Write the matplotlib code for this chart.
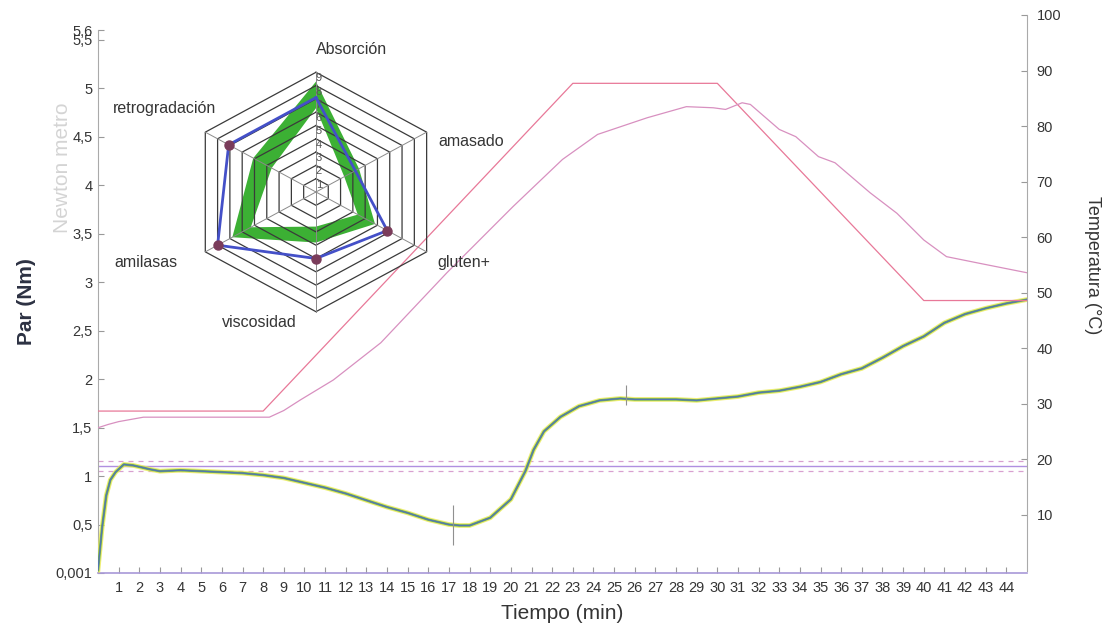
import numpy as np
import matplotlib
matplotlib.use("Agg")
import matplotlib.pyplot as plt

plt.rcParams['font.family'] = ['Liberation Sans', 'DejaVu Sans']

# torque curve (Nm) vs time (min)
tiempo = [0, 0.2, 0.4, 0.6, 0.85, 1.25, 1.7, 2.5, 3, 4, 5, 6, 7, 8, 9, 10,
          11, 12, 13, 14, 15, 16, 17, 17.5, 18, 19, 20, 20.7, 21.1, 21.6,
          22.4, 23.3, 24.3, 25.3, 26, 27, 28, 29, 30, 31, 32, 33, 34, 35,
          36, 37, 38, 39, 40, 41, 42, 43, 44, 45]
par = [0.03, 0.47, 0.80, 0.96, 1.04, 1.12, 1.11, 1.07, 1.05, 1.06, 1.05,
       1.04, 1.03, 1.01, 0.98, 0.93, 0.88, 0.82, 0.75, 0.68, 0.62, 0.55,
       0.50, 0.49, 0.49, 0.57, 0.76, 1.05, 1.27, 1.46, 1.61, 1.72, 1.78,
       1.80, 1.79, 1.79, 1.79, 1.78, 1.80, 1.82, 1.86, 1.88, 1.92, 1.97,
       2.05, 2.11, 2.22, 2.34, 2.44, 2.58, 2.67, 2.73, 2.78, 2.82]

# spikes on the torque trace (time, low, high)
spike_t = [17.2, 25.6]
spike_lo = [0.29, 1.73]
spike_hi = [0.70, 1.94]

# C1 target 1.10 +/- 0.05 Nm
c1_target = 1.10
c1_tol = 0.05

# set-point temperature
t_consigna = [0, 8, 23, 30, 40, 45]
temp_consigna = [28.7, 28.7, 87.7, 87.7, 48.6, 48.6]

# measured dough temperature
t_masa = [0, 0.5, 1, 2.2, 5, 8.3, 9, 9.8, 11.4, 13.7, 16.9, 20.1, 22.5,
          24.2, 26.6, 28.5, 29.8, 30.4, 31.2, 31.6, 33, 33.8, 34.9, 35.7,
          37.4, 38.7, 40, 41.1, 42.7, 45]
temp_masa = [25.7, 26.3, 26.8, 27.6, 27.6, 27.6, 28.8, 30.7, 34.3, 41.0,
             53.6, 65.5, 74.0, 78.5, 81.5, 83.5, 83.3, 83.0, 84.2, 83.9,
             79.4, 78.1, 74.5, 73.4, 68.0, 64.3, 59.5, 56.5, 55.3, 53.6]

# profile indices
ejes = ['Absorción', 'amasado', 'gluten+', 'viscosidad', 'amilasas', 'retrogradación']
perfil = [7.1, 3.2, 5.8, 5.0, 8.0, 7.1]
zona_min = [6.3, 2.3, 3.4, 2.6, 5.3, 3.6]
zona_max = [8.3, 3.5, 4.8, 3.8, 6.8, 5.1]

y_ticks = [0.001, 0.5, 1, 1.5, 2, 2.5, 3, 3.5, 4, 4.5, 5, 5.5, 5.6]
x_ticks = list(range(1, 45))
t_ticks = [10, 20, 30, 40, 50, 60, 70, 80, 90, 100]

txt = '#353535'
fig = plt.figure(figsize=(11.11, 6.25), dpi=100)

# main torque axes
ax = fig.add_axes([0.0882, 0.0832, 0.8362, 0.8688])
ax.plot(tiempo, par, color='#eaea50', lw=3.4, alpha=0.8, zorder=3)
ax.plot(tiempo, par, color='#e8a070', lw=0.8, alpha=0.7, zorder=3)
ax.plot(tiempo, par, color='#48a048', lw=1.8, alpha=0.75, zorder=4)
ax.plot(tiempo, par, color='#5070c0', lw=0.9, alpha=0.9, zorder=5)
ax.vlines(spike_t, spike_lo, spike_hi, color='#909090', lw=0.8, zorder=5)
ax.axhline(c1_target, color='#b090e0', lw=1.0, zorder=2)
ax.axhline(c1_target - c1_tol, color='#d8a0d0', lw=0.9, ls=(0, (4, 4)), zorder=2)
ax.axhline(c1_target + c1_tol, color='#d8a0d0', lw=0.9, ls=(0, (4, 4)), zorder=2)

ax.set_xlim(0, 45)
ax.set_ylim(0, 5.6)
ax.set_xticks(x_ticks)
ax.set_xticklabels([str(v) for v in x_ticks])
ax.set_yticks(y_ticks)
ax.set_yticklabels([('%g' % v).replace('.', ',') for v in y_ticks])
ax.tick_params(direction='in', length=4, width=0.8, colors='#999999',
               labelcolor=txt, labelsize=10.5)
ax.tick_params(axis='x', pad=6)
ax.tick_params(axis='y', pad=4)
for side in ['top', 'right']:
    ax.spines[side].set_visible(False)
ax.spines['left'].set_color('#aaaaaa')
ax.spines['bottom'].set_color('#a898d8')
ax.spines['bottom'].set_linewidth(1.2)
ax.set_xlabel('Tiempo (min)', fontsize=15, color=txt, labelpad=6)
ax.set_ylabel('Par (Nm)', fontsize=15, fontweight='bold', color='#2c3142',
              labelpad=14)

# temperature axes (right)
axt = fig.add_axes([0.0882, 0.0872, 0.8362, 0.8888])
axt.patch.set_visible(False)
axt.plot(t_consigna, temp_consigna, color='#e87898', lw=0.9)
axt.plot(t_masa, temp_masa, color='#d890c0', lw=0.9)
axt.set_xlim(0, 45)
axt.set_ylim(0, 100)
axt.set_xticks([])
axt.yaxis.tick_right()
axt.set_yticks(t_ticks)
axt.tick_params(direction='in', length=4, width=0.8, colors='#999999',
                labelcolor=txt, labelsize=10.5, pad=7)
for side in ['top', 'left', 'bottom']:
    axt.spines[side].set_visible(False)
axt.spines['right'].set_color('#aaaaaa')

fig.text(1092 / 1111, 1 - 265 / 625, 'Temperatura (°C)', rotation=270,
         ha='center', va='center', fontsize=13, color=txt)
fig.text(62 / 1111, 1 - 168 / 625, 'Newton metro', rotation=90,
         ha='center', va='center', fontsize=15, color='#d4d4d4',
         fontweight='light')

# profile inset
axr = fig.add_axes([0.1566, 0.48, 0.2556, 0.4256])
axr.set_xlim(-10, 10)
axr.set_ylim(-10, 10)
axr.axis('off')
ang = np.deg2rad([90, 30, -30, -90, -150, 150])
cx, cy = np.cos(ang), np.sin(ang)


def poly(vals):
    v = np.asarray(vals, dtype=float)
    return np.append(v * cx, v[0] * cx[0]), np.append(v * cy, v[0] * cy[0])


xo, yo = poly(zona_max)
xi, yi = poly(zona_min)
axr.fill(xo, yo, color='#3cb034', lw=0, zorder=1)
axr.fill(xi, yi, color='white', lw=0, zorder=2)
for r in range(1, 10):
    gx, gy = poly([r] * 6)
    axr.plot(gx, gy, color='#3a3a3a', lw=0.9, zorder=3)
    axr.text(0.2, r - 0.45, str(r), fontsize=8, color='#555555',
             ha='center', va='center', zorder=4)
for a, b in zip(cx, cy):
    axr.plot([0, 9 * a], [0, 9 * b], color='#8a8a8a', lw=0.7, zorder=3)
px, py = poly(perfil)
axr.plot(px, py, color='#4450c8', lw=2.0, zorder=5)
fuera = [i for i, v in enumerate(perfil) if v < zona_min[i] or v > zona_max[i]]
axr.plot(np.array(perfil)[fuera] * cx[fuera], np.array(perfil)[fuera] * cy[fuera],
         'o', ms=6.5, color='#7a3c5a', zorder=6)

etiquetas = [(2.5, 10.7), (10.9, 3.8), (10.4, -5.3), (-4.0, -9.8),
             (-12.0, -5.3), (-10.7, 6.3)]
for nombre, (lx, ly) in zip(ejes, etiquetas):
    axr.text(lx, ly, nombre, fontsize=11.5, color=txt, ha='center',
             va='center', clip_on=False)

fig.savefig('out.png', dpi=100)
